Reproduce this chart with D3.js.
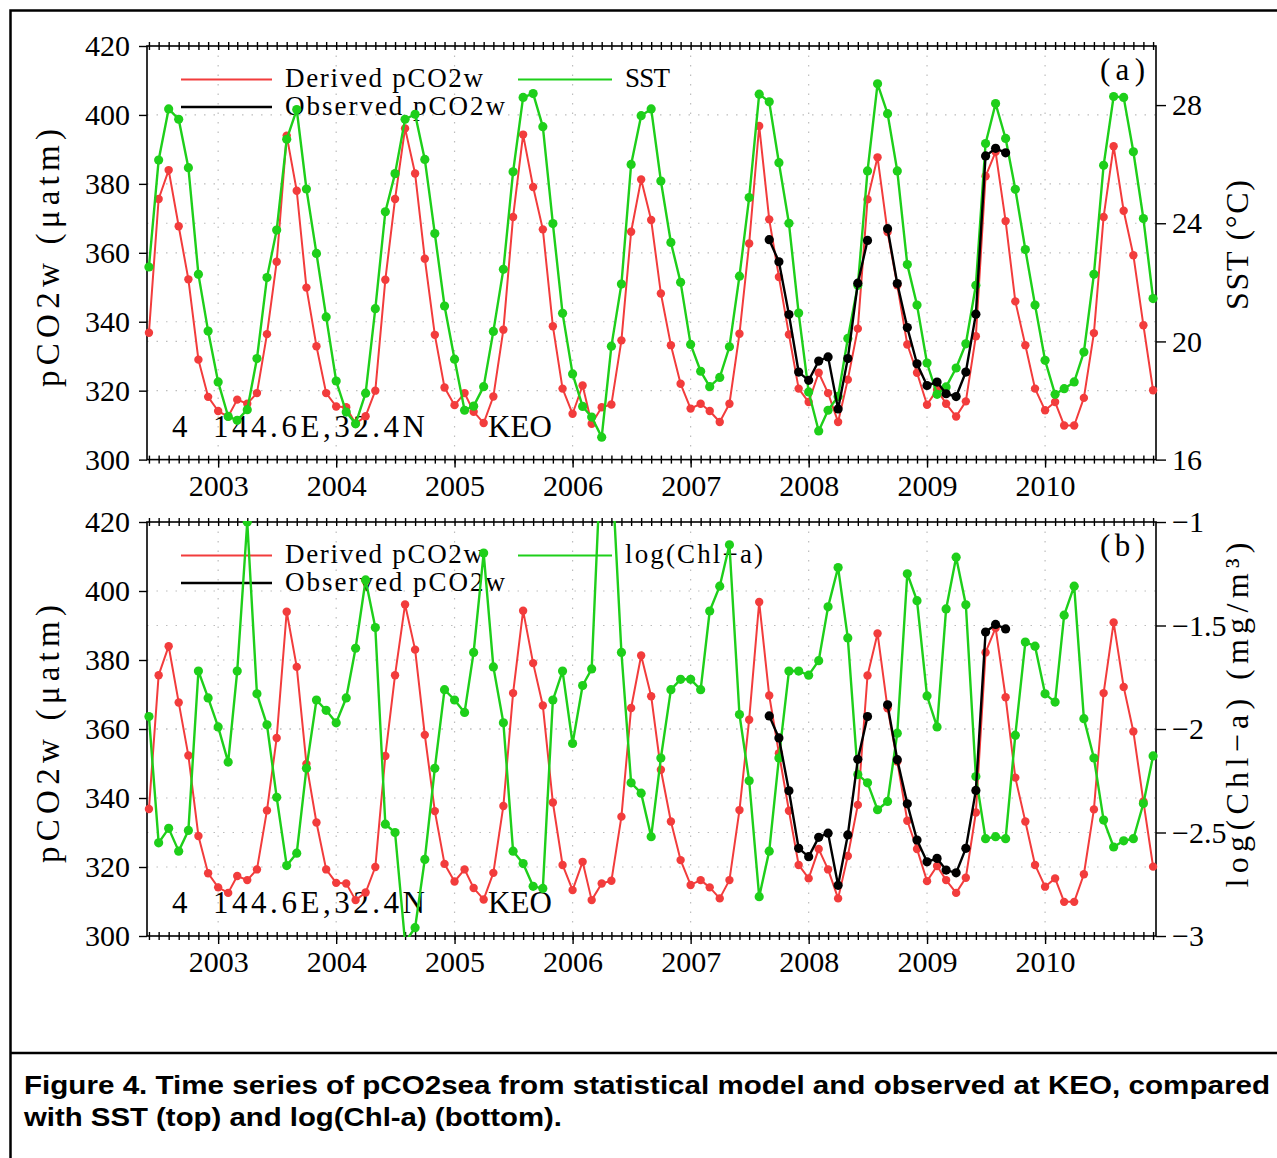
<!DOCTYPE html>
<html><head><meta charset="utf-8">
<script src="https://cdn.jsdelivr.net/npm/d3@7"></script>
<style>body{margin:0;background:#fff}</style>
</head><body>
<svg id="c" width="1277" height="1158"></svg>
<script>
// ---------- data ----------
const firstMonth = "2002-06";           // first monthly value
const derivedPCO2 = [336.8,375.6,384.0,367.7,352.3,329.0,318.2,314.1,312.5,317.4,
316.2,319.3,336.4,357.4,394.0,378.0,349.9,332.9,319.3,315.4,
315.2,310.4,312.6,320.0,352.2,375.6,396.1,383.0,358.3,336.2,
320.9,315.8,319.3,313.9,310.6,318.3,337.7,370.4,394.3,379.1,
366.8,338.7,320.6,313.3,321.5,310.4,315.2,316.0,334.6,366.1,
381.3,369.5,348.2,333.2,322.0,314.8,316.2,314.1,310.9,316.2,
336.5,362.7,396.8,369.7,353.0,336.3,320.6,316.7,325.2,319.3,
310.9,323.2,338.0,375.5,387.7,366.0,350.6,333.4,325.2,315.9,
320.3,316.2,312.5,316.9,335.8,382.2,389.3,369.2,345.9,333.2,
320.6,314.3,316.7,309.9,309.9,317.9,336.7,370.4,390.9,372.2,
359.3,339.0,320.1];
const observedStart = "2007-09";
const observedPCO2 = [363.8,357.4,342.1,325.4,323.0,328.6,329.8,314.7,329.3,351.2,
363.6,null,367.0,351.1,338.3,327.8,321.5,322.5,319.1,318.3,325.4,342.2,388.1,390.3,389.0];
const sstValues = [22.52,26.14,27.87,27.52,25.88,22.27,20.35,18.63,17.46,17.33,
17.69,19.42,22.16,23.77,26.84,27.85,25.16,22.98,20.83,18.66,
17.61,17.21,18.25,21.11,24.39,25.68,27.52,27.69,26.16,23.65,
21.20,19.40,17.67,17.81,18.47,20.34,22.44,25.74,28.26,28.39,
27.27,23.99,20.95,18.90,17.80,17.44,16.76,19.84,21.94,25.99,
27.64,27.87,25.43,23.35,22.00,19.90,18.99,18.47,18.78,19.82,
22.21,24.87,28.37,28.11,26.05,24.00,20.96,18.29,16.97,17.67,
18.14,20.10,21.90,25.77,28.72,27.71,25.77,22.60,21.23,19.27,
18.21,18.46,19.10,19.92,21.90,26.70,28.05,26.87,25.15,23.11,
21.23,19.36,18.21,18.40,18.63,19.64,22.27,25.96,28.29,28.26,
26.42,24.16,21.45];
const logChlValues = [-1.94,-2.55,-2.48,-2.59,-2.49,-1.72,-1.85,-1.99,-2.16,-1.72,
-1.00,-1.83,-1.98,-2.33,-2.66,-2.60,-2.19,-1.86,-1.91,-1.97,
-1.85,-1.61,-1.28,-1.51,-2.46,-2.50,-3.03,-2.96,-2.63,-2.19,
-1.81,-1.86,-1.92,-1.63,-1.15,-1.70,-1.97,-2.59,-2.65,-2.76,
-2.77,-1.86,-1.72,-2.07,-1.79,-1.71,-0.60,-0.70,-1.63,-2.26,
-2.31,-2.52,-2.14,-1.81,-1.76,-1.76,-1.81,-1.43,-1.31,-1.11,
-1.93,-2.25,-2.81,-2.59,-2.14,-1.72,-1.72,-1.74,-1.67,-1.41,
-1.22,-1.56,-2.22,-2.26,-2.39,-2.35,-2.02,-1.25,-1.38,-1.84,
-1.99,-1.42,-1.17,-1.40,-2.23,-2.53,-2.52,-2.53,-2.03,-1.58,
-1.60,-1.83,-1.87,-1.45,-1.31,-1.95,-2.14,-2.44,-2.57,-2.54,
-2.53,-2.36,-2.13];
const yearLabels = ["2003","2004","2005","2006","2007","2008","2009","2010"];
const pco2Ticks = [300,320,340,360,380,400,420];
const sstTicks = [16,20,24,28];
const chlTicks = [-3,-2.5,-2,-1.5,-1];
const chlTickLabels = ["\u22123","\u22122.5","\u22122","\u22121.5","\u22121"];

// ---------- setup ----------
const RED = "#f23c3c", GREEN = "#1ecf1a", BLACK = "#000";
const SERIF = "'Liberation Serif','Times New Roman',serif";
const svg = d3.select("#c");
const parseM = d3.timeParse("%Y-%m");
const t0 = parseM(firstMonth), tObs = parseM(observedStart);
const dates = derivedPCO2.map((_, i) => d3.timeMonth.offset(t0, i));
const obsDates = observedPCO2.map((_, i) => d3.timeMonth.offset(tObs, i));
const x = d3.scaleTime().domain([new Date(2002,4,26), new Date(2010,11,10)]).range([147,1156]);
const yearDates = yearLabels.map(y => new Date(+y,0,1));
const monthTicks = d3.timeMonth.range(new Date(2002,5,1), new Date(2010,11,2));

// outer frame
svg.append("rect").attr("x",10.5).attr("y",10.5).attr("width",1300).attr("height",1300)
  .attr("fill","none").attr("stroke","#000").attr("stroke-width",2.5);
svg.append("line").attr("x1",10).attr("x2",1277).attr("y1",1053).attr("y2",1053)
  .attr("stroke","#000").attr("stroke-width",2.5);

const panels = [
  {top:46, bottom:459.6, rDomain:[16,30], rTicks:sstTicks, rLabels:sstTicks.map(String),
   green:sstValues, gName:"SST", gNameLen:45, tag:"(a)", rTitle:"SST  (\u00B0C)", rTitleLen:130, rTitleCy:245},
  {top:522, bottom:936, rDomain:[-3,-1], rTicks:chlTicks, rLabels:chlTickLabels,
   green:logChlValues, gName:"log(Chl\u2212a)", gNameLen:138, tag:"(b)", rTitle:"log(Chl\u2212a)  (mg/m\u00B3)", rTitleLen:345, rTitleCy:715}
];

panels.forEach((P, pi) => {
  const g = svg.append("g");
  const yL = d3.scaleLinear().domain([300,420]).range([P.bottom, P.top]);
  const yR = d3.scaleLinear().domain(P.rDomain).range([P.bottom, P.top]);
  const off = P.top - 46;

  // grid
  const grid = g.append("g").attr("stroke","#bdbdbd").attr("stroke-width",1.2).attr("stroke-dasharray","1.5,8");
  pco2Ticks.slice(1,-1).forEach(v => grid.append("line").attr("x1",147).attr("x2",1156).attr("y1",yL(v)).attr("y2",yL(v)));
  P.rTicks.slice(1,-1).forEach(v => grid.append("line").attr("x1",147).attr("x2",1156).attr("y1",yR(v)).attr("y2",yR(v)));
  yearDates.forEach(d => grid.append("line").attr("x1",x(d)).attr("x2",x(d)).attr("y1",P.top).attr("y2",P.bottom));

  // axes
  const styleAxis = sel => { sel.select(".domain").remove(); sel.selectAll("line").attr("stroke","#000").attr("stroke-width",1.4);
    sel.selectAll("text").attr("font-family",SERIF).attr("font-size",30).attr("fill","#000"); };
  g.append("g").attr("transform",`translate(147,0)`)
    .call(d3.axisLeft(yL).tickValues(pco2Ticks).tickSize(8).tickPadding(9).tickFormat(d3.format("d"))).call(styleAxis);
  g.append("g").attr("transform",`translate(1156,0)`)
    .call(d3.axisRight(yR).tickValues(P.rTicks).tickSize(10).tickPadding(6).tickFormat((d,i)=>P.rLabels[i])).call(styleAxis);
  g.append("g").attr("transform",`translate(0,${P.bottom})`)
    .call(d3.axisBottom(x).tickValues(yearDates).tickSize(8).tickPadding(7).tickFormat((d,i)=>yearLabels[i])).call(styleAxis);
  [P.bottom, P.top].forEach(yy => {
    g.append("g").attr("transform",`translate(0,${yy})`)
      .call(d3.axisBottom(x).tickValues(monthTicks).tickSize(4).tickFormat("")).call(styleAxis);
    g.append("g").attr("transform",`translate(0,${yy})`)
      .call(d3.axisTop(x).tickValues(monthTicks).tickSize(4).tickFormat("")).call(styleAxis);
  });
  g.append("rect").attr("x",147).attr("y",P.top).attr("width",1009).attr("height",P.bottom-P.top)
    .attr("fill","none").attr("stroke","#000").attr("stroke-width",1.6);

  // axis titles
  g.append("text").attr("transform",`translate(59,${258+off}) rotate(-90)`).attr("text-anchor","middle")
    .attr("font-family",SERIF).attr("font-size",33).attr("textLength",258).attr("lengthAdjust","spacing")
    .text("pCO2w  (\u03BCatm)");
  g.append("text").attr("transform",`translate(1248,${P.rTitleCy}) rotate(-90)`).attr("text-anchor","middle")
    .attr("font-family",SERIF).attr("font-size",32).attr("textLength",P.rTitleLen).attr("lengthAdjust","spacing")
    .text(P.rTitle);

  // legend
  const leg = g.append("g");
  leg.append("line").attr("x1",181).attr("x2",272).attr("y1",79.5+off).attr("y2",79.5+off).attr("stroke",RED).attr("stroke-width",2);
  leg.append("line").attr("x1",181).attr("x2",272).attr("y1",107+off).attr("y2",107+off).attr("stroke",BLACK).attr("stroke-width",2.4);
  leg.append("line").attr("x1",518).attr("x2",612).attr("y1",79.5+off).attr("y2",79.5+off).attr("stroke",GREEN).attr("stroke-width",2);
  const lt = (tx, xx, yy, len, fs) => leg.append("text").attr("x",xx).attr("y",yy).attr("font-family",SERIF)
    .attr("font-size",fs||27).attr("textLength",len).attr("lengthAdjust","spacing").text(tx);
  lt("Derived pCO2w", 285, 87+off, 198);
  lt("Observed pCO2w", 285, 115+off, 220);
  lt(P.gName, 625, 87+off, P.gNameLen);
  lt(P.tag, 1100, 80+off, 45, 31);
  lt("4", 172, 437+off, 17, 31);
  lt("144.6E,32.4N", 213, 437+off, 212, 31);
  lt("KEO", 488, 437+off, 64, 31);

  // series
  const clipId = "clip"+pi;
  svg.append("clipPath").attr("id",clipId).append("rect").attr("x",140).attr("y",P.top-1).attr("width",1030).attr("height",P.bottom-P.top+2);
  const series = (vals, ds, yS, color, lw, r) => {
    const pts = vals.map((v,i)=>({d:ds[i], v}));
    const s = g.append("g").attr("clip-path",`url(#${clipId})`);
    s.append("path").datum(pts).attr("fill","none").attr("stroke",color).attr("stroke-width",lw)
      .attr("stroke-linejoin","round")
      .attr("d", d3.line().defined(p=>p.v!=null).x(p=>x(p.d)).y(p=>yS(p.v)));
    s.selectAll("circle").data(pts.filter(p=>p.v!=null)).join("circle")
      .attr("cx",p=>x(p.d)).attr("cy",p=>yS(p.v)).attr("r",r).attr("fill",color);
  };
  series(derivedPCO2, dates, yL, RED, 2, 4.2);
  series(P.green, dates, yR, GREEN, 2.4, 4.6);
  series(observedPCO2, obsDates, yL, BLACK, 2.4, 4.6);
});

// caption
const cap = svg.append("g").attr("font-family","'Liberation Sans',Arial,sans-serif").attr("font-weight","bold").attr("font-size",26);
cap.append("text").attr("x",24).attr("y",1094).attr("textLength",1246).attr("lengthAdjust","spacingAndGlyphs")
  .text("Figure 4. Time series of pCO2sea from statistical model and observed at KEO, compared");
cap.append("text").attr("x",24).attr("y",1126).attr("textLength",538).attr("lengthAdjust","spacingAndGlyphs")
  .text("with SST (top) and log(Chl-a) (bottom).");
</script>
</body></html>
